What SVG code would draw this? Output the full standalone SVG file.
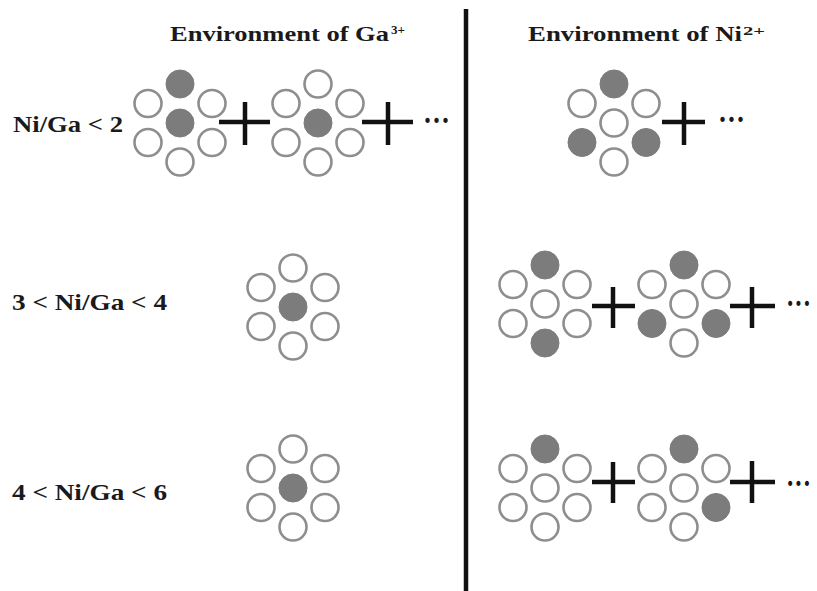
<svg xmlns="http://www.w3.org/2000/svg" width="817" height="591" viewBox="0 0 817 591">
<style>
  .t { font-family: "Liberation Serif", "Times New Roman", serif; font-weight: bold; fill: #1a1a1a; }
  .h { font-size: 22px; }
  .sup { font-size: 13px; }
  .lab { font-size: 23px; }
  .dots { font-size: 32px; }
  .o { fill: #ffffff; stroke: #8e8e8e; stroke-width: 2.6; }
  .f { fill: #7c7c7c; stroke: #7c7c7c; stroke-width: 1; }
  .plus { stroke: #111111; stroke-width: 4.5; fill: none; }
  .div { stroke: #111111; stroke-width: 4.5; }
</style>
<defs>
  <circle id="oc" r="13.5" class="o"/>
  <circle id="fc" r="14" class="f"/>
</defs>
<rect width="817" height="591" fill="#ffffff"/>

<g id="headers">
  <text class="t h" x="170" y="41" textLength="219" lengthAdjust="spacingAndGlyphs">Environment of Ga</text>
  <text class="t sup" x="391" y="34" textLength="14" lengthAdjust="spacingAndGlyphs">3+</text>
  <text class="t h" x="528" y="41" textLength="214" lengthAdjust="spacingAndGlyphs">Environment of Ni</text>
  <text class="t sup" x="743" y="35" textLength="22" lengthAdjust="spacingAndGlyphs">2+</text>
</g>

<g id="labels">
  <text class="t lab" x="13" y="132" textLength="110" lengthAdjust="spacingAndGlyphs">Ni/Ga &lt; 2</text>
  <text class="t lab" x="12" y="310" textLength="155" lengthAdjust="spacingAndGlyphs">3 &lt; Ni/Ga &lt; 4</text>
  <text class="t lab" x="12" y="500" textLength="155" lengthAdjust="spacingAndGlyphs">4 &lt; Ni/Ga &lt; 6</text>
</g>

<g id="divider">
  <line class="div" x1="466" y1="9" x2="466" y2="591"/>
</g>

<!-- Row 1 Ga -->
<g id="ga-r1-a" transform="translate(180,123)">
  <use href="#fc" x="0" y="-39"/>
  <use href="#oc" x="-32" y="-19.5"/>
  <use href="#oc" x="32" y="-19.5"/>
  <use href="#fc" x="0" y="0"/>
  <use href="#oc" x="-32" y="19.5"/>
  <use href="#oc" x="32" y="19.5"/>
  <use href="#oc" x="0" y="39"/>
</g>
<g id="plus-r1-1"><path class="plus" d="M219 122H270M245 102V145"/></g>
<g id="ga-r1-b" transform="translate(318,123)">
  <use href="#oc" x="0" y="-39"/>
  <use href="#oc" x="-32" y="-19.5"/>
  <use href="#oc" x="32" y="-19.5"/>
  <use href="#fc" x="0" y="0"/>
  <use href="#oc" x="-32" y="19.5"/>
  <use href="#oc" x="32" y="19.5"/>
  <use href="#oc" x="0" y="39"/>
</g>
<g id="plus-r1-2"><path class="plus" d="M362 122H413M388 102V145"/></g>
<g id="dots-r1-ga"><text class="t dots" x="423" y="131" textLength="27" lengthAdjust="spacingAndGlyphs">···</text></g>

<!-- Row 1 Ni -->
<g id="ni-r1-a" transform="translate(614,123)">
  <use href="#fc" x="0" y="-39"/>
  <use href="#oc" x="-32" y="-19.5"/>
  <use href="#oc" x="32" y="-19.5"/>
  <use href="#oc" x="0" y="0"/>
  <use href="#fc" x="-32" y="19.5"/>
  <use href="#fc" x="32" y="19.5"/>
  <use href="#oc" x="0" y="39"/>
</g>
<g id="plus-r1-3"><path class="plus" d="M662 122H705M684 102V145"/></g>
<g id="dots-r1-ni"><text class="t dots" x="718" y="130" textLength="27" lengthAdjust="spacingAndGlyphs">···</text></g>

<!-- Row 2 Ga -->
<g id="ga-r2" transform="translate(293,307)">
  <use href="#oc" x="0" y="-39"/>
  <use href="#oc" x="-32" y="-19.5"/>
  <use href="#oc" x="32" y="-19.5"/>
  <use href="#fc" x="0" y="0"/>
  <use href="#oc" x="-32" y="19.5"/>
  <use href="#oc" x="32" y="19.5"/>
  <use href="#oc" x="0" y="39"/>
</g>

<!-- Row 2 Ni -->
<g id="ni-r2-a" transform="translate(545,304)">
  <use href="#fc" x="0" y="-39"/>
  <use href="#oc" x="-32" y="-19.5"/>
  <use href="#oc" x="32" y="-19.5"/>
  <use href="#oc" x="0" y="0"/>
  <use href="#oc" x="-32" y="19.5"/>
  <use href="#oc" x="32" y="19.5"/>
  <use href="#fc" x="0" y="39"/>
</g>
<g id="plus-r2-1"><path class="plus" d="M592 306H635M613 287V328"/></g>
<g id="ni-r2-b" transform="translate(684,304)">
  <use href="#fc" x="0" y="-39"/>
  <use href="#oc" x="-32" y="-19.5"/>
  <use href="#oc" x="32" y="-19.5"/>
  <use href="#oc" x="0" y="0"/>
  <use href="#fc" x="-32" y="19.5"/>
  <use href="#fc" x="32" y="19.5"/>
  <use href="#oc" x="0" y="39"/>
</g>
<g id="plus-r2-2"><path class="plus" d="M730 306H775M752 287V328"/></g>
<g id="dots-r2"><text class="t dots" x="786" y="314" textLength="25" lengthAdjust="spacingAndGlyphs">···</text></g>

<!-- Row 3 Ga -->
<g id="ga-r3" transform="translate(293,488)">
  <use href="#oc" x="0" y="-39"/>
  <use href="#oc" x="-32" y="-19.5"/>
  <use href="#oc" x="32" y="-19.5"/>
  <use href="#fc" x="0" y="0"/>
  <use href="#oc" x="-32" y="19.5"/>
  <use href="#oc" x="32" y="19.5"/>
  <use href="#oc" x="0" y="39"/>
</g>

<!-- Row 3 Ni -->
<g id="ni-r3-a" transform="translate(545,488)">
  <use href="#fc" x="0" y="-39"/>
  <use href="#oc" x="-32" y="-19.5"/>
  <use href="#oc" x="32" y="-19.5"/>
  <use href="#oc" x="0" y="0"/>
  <use href="#oc" x="-32" y="19.5"/>
  <use href="#oc" x="32" y="19.5"/>
  <use href="#oc" x="0" y="39"/>
</g>
<g id="plus-r3-1"><path class="plus" d="M592 482H635M613 462V503"/></g>
<g id="ni-r3-b" transform="translate(684,488)">
  <use href="#fc" x="0" y="-39"/>
  <use href="#oc" x="-32" y="-19.5"/>
  <use href="#oc" x="32" y="-19.5"/>
  <use href="#oc" x="0" y="0"/>
  <use href="#oc" x="-32" y="19.5"/>
  <use href="#fc" x="32" y="19.5"/>
  <use href="#oc" x="0" y="39"/>
</g>
<g id="plus-r3-2"><path class="plus" d="M730 482H775M752 461V503"/></g>
<g id="dots-r3"><text class="t dots" x="786" y="494" textLength="25" lengthAdjust="spacingAndGlyphs">···</text></g>
</svg>
